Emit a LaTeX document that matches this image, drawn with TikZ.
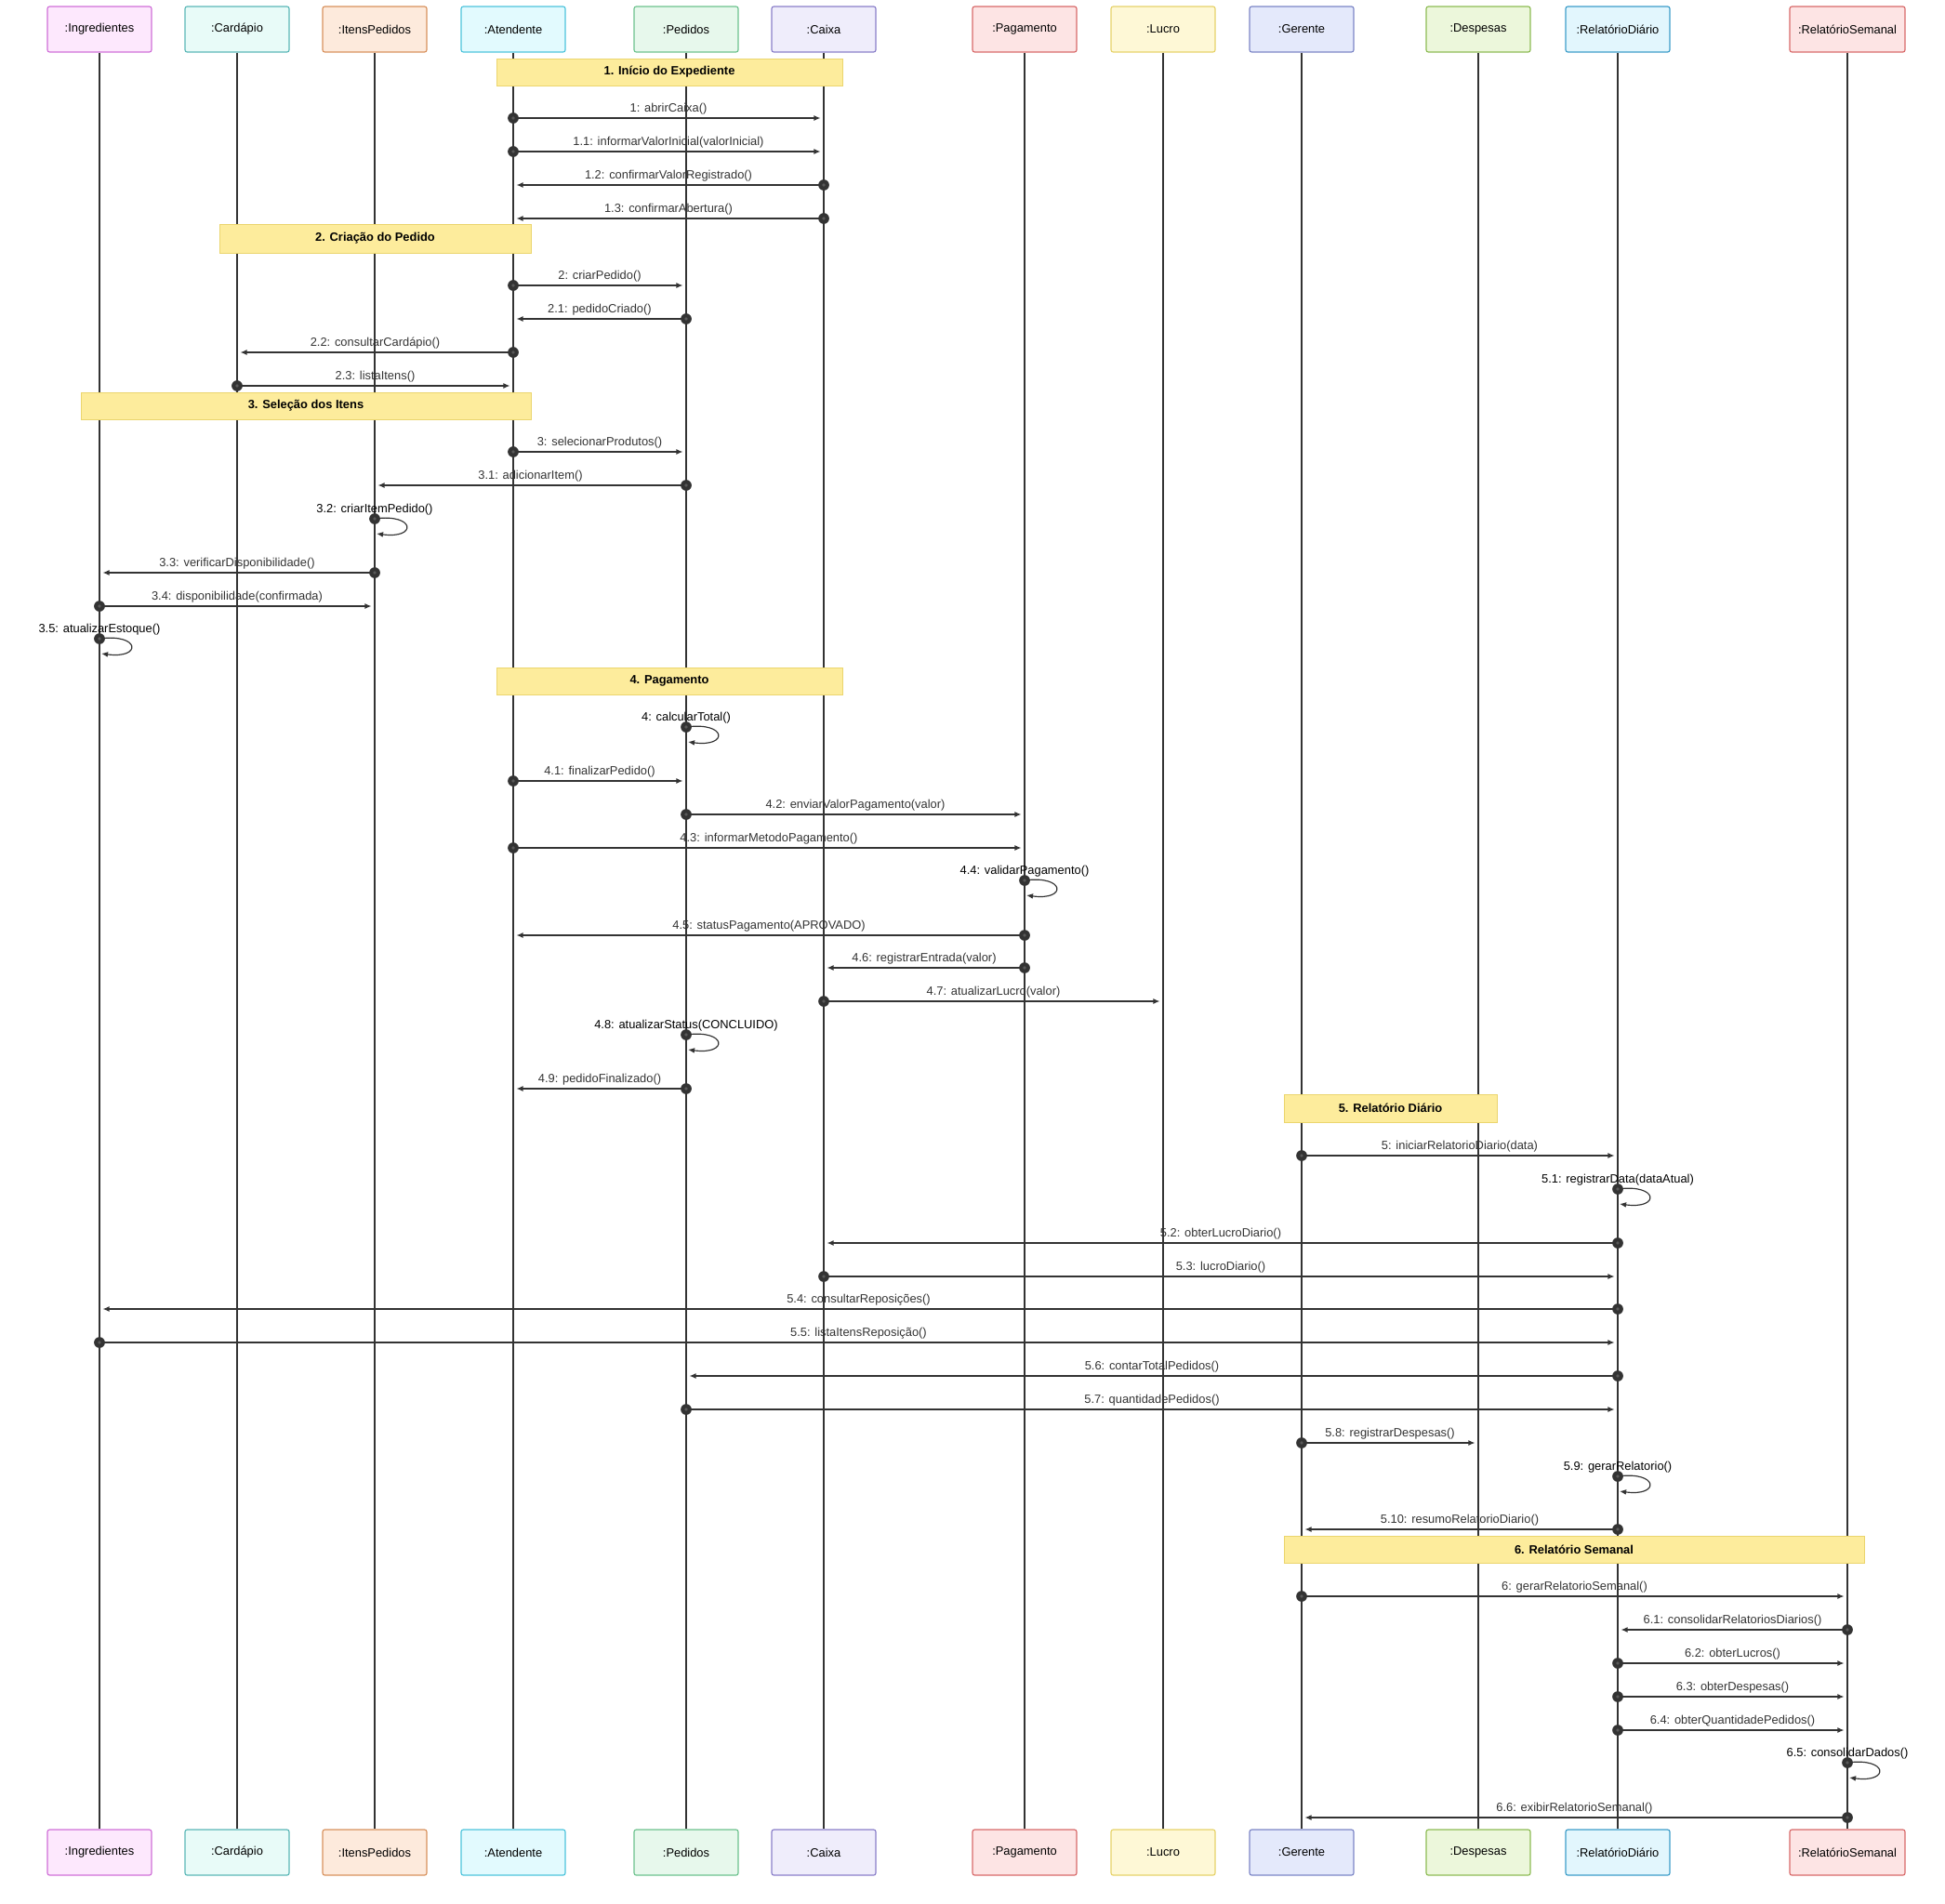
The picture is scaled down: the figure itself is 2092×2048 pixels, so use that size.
\documentclass[tikz,border=0pt]{standalone}
\usepackage{fontspec}
\setmainfont{Liberation Sans}
\usetikzlibrary{arrows.meta}

%% participant colours: f = fill, d = border
\definecolor{fingr}{HTML}{FDE8FD}  \definecolor{dingr}{HTML}{D070D8}
\definecolor{fcard}{HTML}{E8FBF8}  \definecolor{dcard}{HTML}{5BB7B7}
\definecolor{fitens}{HTML}{FDEADC} \definecolor{ditens}{HTML}{D8925E}
\definecolor{faten}{HTML}{E2FAFE}  \definecolor{daten}{HTML}{4EC4DC}
\definecolor{fped}{HTML}{E7F8EC}   \definecolor{dped}{HTML}{6DC28E}
\definecolor{fcaixa}{HTML}{EFEDFB} \definecolor{dcaixa}{HTML}{8A7FC9}
\definecolor{fpag}{HTML}{FDE4E4}   \definecolor{dpag}{HTML}{D86A6A}
\definecolor{flucro}{HTML}{FEF8D6} \definecolor{dlucro}{HTML}{E6D26A}
\definecolor{fger}{HTML}{E4E9FB}   \definecolor{dger}{HTML}{7C86C6}
\definecolor{fdesp}{HTML}{ECF7DB}  \definecolor{ddesp}{HTML}{8EBC55}
\definecolor{freld}{HTML}{E2F6FD}  \definecolor{dreld}{HTML}{3D9DC9}
\definecolor{frels}{HTML}{FDE4E4}  \definecolor{drels}{HTML}{D86A6A}
\definecolor{notefill}{HTML}{FDEC9C}
\definecolor{notedraw}{HTML}{EBD56E}
\definecolor{seqline}{HTML}{333333}

%% message: id, from, to, y, label
\newcommand{\callmsg}[5]{%
  \coordinate (#1-s) at (#2-top |- 0,#4);
  \coordinate (#1-e) at (#3-top |- 0,#4);
  \draw[msgline] (#1-s) -- node[msglabel] (#1) {#5} (#1-e);
  \fill[seqline] (#1-s) circle (5pt);
  \fill[dotcore] (#1-s) circle (1.6pt);
}
%% self message: id, on, y, label
\newcommand{\selfmsg}[4]{%
  \coordinate (#1-s) at (#2-top |- 0,#3);
  \coordinate (#1-e) at ([shift={(2,16)}]#1-s);
  \draw[msgline, shorten >=0pt] (#1-s) .. controls +(44,-6) and +(44,6) .. (#1-e);
  \node[msglabel] (#1) at (#1-s) {#4};
  \fill[seqline] (#1-s) circle (5pt);
  \fill[dotcore] (#1-s) circle (1.6pt);
}
%% phase note: name, x1, y1, x2, y2, text
\newcommand{\phasenote}[6]{%
  \draw[notebox] (#2,#3) rectangle (#4,#5);
  \node[notetext] (#1) at ({(#2+#4)/2},{(#3+#5)/2}) {#6};
}

\begin{document}
\begin{tikzpicture}[x=0.03cm, y=-0.03cm,
  actor/.style={rectangle, rounded corners=2pt, line width=1pt, minimum height=1.47cm,
    inner sep=2pt, font=\fontsize{11}{13}\selectfont},
  lifeline/.style={seqline, line width=1pt},
  msgline/.style={seqline, line width=1pt, -{Latex[length=6pt,width=5pt]}, shorten >=3pt},
  msglabel/.style={above=1pt, inner sep=2pt, font=\fontsize{11}{13}\selectfont},
  dotcore/.style={gray!70!black},
  notebox/.style={fill=notefill, draw=notedraw, line width=0.8pt},
  notetext/.style={font=\fontsize{11}{13}\selectfont\bfseries}]
\useasboundingbox (0,0) rectangle (2092,2048);

%% --- participants (top and bottom) ---
\foreach \n/\x/\w/\t in {ingr/107/3.36cm/:Ingredientes, card/255/3.36cm/:Cardápio,
    itens/403/3.36cm/:ItensPedidos, aten/552/3.36cm/:Atendente, ped/738/3.36cm/:Pedidos,
    caixa/886/3.36cm/:Caixa, pag/1102/3.36cm/:Pagamento, lucro/1251/3.36cm/:Lucro,
    ger/1400/3.36cm/:Gerente, desp/1590/3.36cm/:Despesas,
    reld/1740/3.36cm/:RelatórioDiário, rels/1987/3.72cm/:RelatórioSemanal}{
  \node[actor, fill=f\n, draw=d\n, minimum width=\w] (\n-top) at (\x,31.5) {\t};
  \node[actor, fill=f\n, draw=d\n, minimum width=\w] (\n-bot) at (\x,1992.5) {\t};
  \draw[lifeline] (\n-top.south) -- (\n-bot.north);
}

%% --- phases ---
\phasenote{n1}{534}{63}{906}{92}{1. Início do Expediente}
\phasenote{n2}{236}{241}{571}{272}{2. Criação do Pedido}
\phasenote{n3}{87}{422}{571}{451}{3. Seleção dos Itens}
\phasenote{n4}{534}{718}{906}{747}{4. Pagamento}
\phasenote{n5}{1381}{1177}{1610}{1207}{5. Relatório Diário}
\phasenote{n6}{1381}{1652}{2005}{1681}{6. Relatório Semanal}

%% --- 1. inicio ---
\callmsg{m1}{aten}{caixa}{127}{1: abrirCaixa()}
\callmsg{m11}{aten}{caixa}{163}{1.1: informarValorInicial(valorInicial)}
\callmsg{m12}{caixa}{aten}{199}{1.2: confirmarValorRegistrado()}
\callmsg{m13}{caixa}{aten}{235}{1.3: confirmarAbertura()}

%% --- 2. pedido ---
\callmsg{m2}{aten}{ped}{307}{2: criarPedido()}
\callmsg{m21}{ped}{aten}{343}{2.1: pedidoCriado()}
\callmsg{m22}{aten}{card}{379}{2.2: consultarCardápio()}
\callmsg{m23}{card}{aten}{415}{2.3: listaItens()}

%% --- 3. itens ---
\callmsg{m3}{aten}{ped}{486}{3: selecionarProdutos()}
\callmsg{m31}{ped}{itens}{522}{3.1: adicionarItem()}
\selfmsg{s32}{itens}{558}{3.2: criarItemPedido()}
\callmsg{m33}{itens}{ingr}{616}{3.3: verificarDisponibilidade()}
\callmsg{m34}{ingr}{itens}{652}{3.4: disponibilidade(confirmada)}
\selfmsg{s35}{ingr}{687}{3.5: atualizarEstoque()}

%% --- 4. pagamento ---
\selfmsg{s4}{ped}{782}{4: calcularTotal()}
\callmsg{m41}{aten}{ped}{840}{4.1: finalizarPedido()}
\callmsg{m42}{ped}{pag}{876}{4.2: enviarValorPagamento(valor)}
\callmsg{m43}{aten}{pag}{912}{4.3: informarMetodoPagamento()}
\selfmsg{s44}{pag}{947}{4.4: validarPagamento()}
\callmsg{m45}{pag}{aten}{1006}{4.5: statusPagamento(APROVADO)}
\callmsg{m46}{pag}{caixa}{1041}{4.6: registrarEntrada(valor)}
\callmsg{m47}{caixa}{lucro}{1077}{4.7: atualizarLucro(valor)}
\selfmsg{s48}{ped}{1113}{4.8: atualizarStatus(CONCLUIDO)}
\callmsg{m49}{ped}{aten}{1171}{4.9: pedidoFinalizado()}

%% --- 5. relatorio diario ---
\callmsg{m5}{ger}{reld}{1243}{5: iniciarRelatorioDiario(data)}
\selfmsg{s51}{reld}{1279}{5.1: registrarData(dataAtual)}
\callmsg{m52}{reld}{caixa}{1337}{5.2: obterLucroDiario()}
\callmsg{m53}{caixa}{reld}{1373}{5.3: lucroDiario()}
\callmsg{m54}{reld}{ingr}{1408}{5.4: consultarReposições()}
\callmsg{m55}{ingr}{reld}{1444}{5.5: listaItensReposição()}
\callmsg{m56}{reld}{ped}{1480}{5.6: contarTotalPedidos()}
\callmsg{m57}{ped}{reld}{1516}{5.7: quantidadePedidos()}
\callmsg{m58}{ger}{desp}{1552}{5.8: registrarDespesas()}
\selfmsg{s59}{reld}{1588}{5.9: gerarRelatorio()}
\callmsg{m510}{reld}{ger}{1645}{5.10: resumoRelatorioDiario()}

%% --- 6. relatorio semanal ---
\callmsg{m6}{ger}{rels}{1717}{6: gerarRelatorioSemanal()}
\callmsg{m61}{rels}{reld}{1753}{6.1: consolidarRelatoriosDiarios()}
\callmsg{m62}{reld}{rels}{1789}{6.2: obterLucros()}
\callmsg{m63}{reld}{rels}{1825}{6.3: obterDespesas()}
\callmsg{m64}{reld}{rels}{1861}{6.4: obterQuantidadePedidos()}
\selfmsg{s65}{rels}{1896}{6.5: consolidarDados()}
\callmsg{m66}{rels}{ger}{1955}{6.6: exibirRelatorioSemanal()}
\end{tikzpicture}
\end{document}
